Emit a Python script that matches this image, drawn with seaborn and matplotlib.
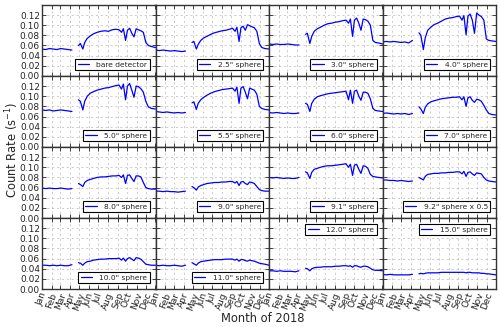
import pandas as pd
import matplotlib
matplotlib.use("Agg")
import matplotlib.pyplot as plt
import matplotlib.dates as mdates
import seaborn as sns

# day-of-year sample points (gap between the two segments)
pre_days = [1, 13, 25, 37, 49, 61, 73, 85, 97]
post_days = [118, 124, 132, 138, 146, 156, 166, 178, 190, 202, 214, 226, 238, 248,
             256, 262, 269, 275, 282, 289, 296, 303, 310, 318, 326, 334, 342, 352, 365]

labels = ['bare detector', '2.5" sphere', '3.0" sphere', '4.0" sphere',
          '5.0" sphere', '5.5" sphere', '6.0" sphere', '7.0" sphere',
          '8.0" sphere', '9.0" sphere', '9.1" sphere', '9.2" sphere x 0.5',
          '10.0" sphere', '11.0" sphere', '12.0" sphere', '15.0" sphere']

bare_pre = [0.053, 0.052, 0.054, 0.053, 0.052, 0.054, 0.053, 0.052, 0.051]
bare_post = [0.060, 0.064, 0.053, 0.066, 0.074, 0.079, 0.083, 0.086, 0.088, 0.089, 0.088, 0.091, 0.092, 0.091,
             0.086, 0.093, 0.070, 0.090, 0.094, 0.084, 0.077, 0.093, 0.091, 0.089, 0.086, 0.066, 0.060, 0.058, 0.056]
s25_pre = [0.051, 0.050, 0.051, 0.050, 0.049, 0.050, 0.049, 0.048, 0.049]
s25_post = [0.066, 0.068, 0.053, 0.062, 0.070, 0.075, 0.078, 0.082, 0.085, 0.087, 0.089, 0.090, 0.092, 0.094,
            0.088, 0.096, 0.068, 0.095, 0.098, 0.090, 0.101, 0.099, 0.097, 0.095, 0.088, 0.064, 0.056, 0.054, 0.053]
s30_pre = [0.063, 0.062, 0.063, 0.062, 0.062, 0.063, 0.062, 0.061, 0.061]
s30_post = [0.082, 0.084, 0.064, 0.078, 0.088, 0.093, 0.096, 0.100, 0.103, 0.104, 0.106, 0.107, 0.109, 0.110,
            0.104, 0.112, 0.078, 0.110, 0.114, 0.104, 0.090, 0.112, 0.111, 0.108, 0.100, 0.070, 0.066, 0.065, 0.063]
s40_pre = [0.067, 0.068, 0.067, 0.068, 0.067, 0.066, 0.067, 0.065, 0.070]
s40_post = [0.085, 0.080, 0.052, 0.075, 0.090, 0.096, 0.101, 0.104, 0.108, 0.112, 0.114, 0.115, 0.117, 0.118,
            0.110, 0.119, 0.081, 0.118, 0.122, 0.110, 0.084, 0.124, 0.120, 0.117, 0.110, 0.073, 0.070, 0.069, 0.068]
s50_pre = [0.073, 0.072, 0.073, 0.071, 0.072, 0.073, 0.072, 0.071, 0.070]
s50_post = [0.093, 0.090, 0.073, 0.090, 0.100, 0.106, 0.109, 0.112, 0.114, 0.116, 0.117, 0.119, 0.121, 0.122,
            0.114, 0.124, 0.093, 0.120, 0.125, 0.112, 0.098, 0.120, 0.119, 0.115, 0.108, 0.090, 0.079, 0.076, 0.075]
s55_pre = [0.070, 0.069, 0.068, 0.069, 0.068, 0.067, 0.068, 0.067, 0.068]
s55_post = [0.087, 0.089, 0.074, 0.086, 0.093, 0.098, 0.102, 0.106, 0.109, 0.111, 0.113, 0.114, 0.115, 0.116,
            0.110, 0.118, 0.086, 0.116, 0.119, 0.108, 0.095, 0.116, 0.114, 0.112, 0.104, 0.080, 0.076, 0.074, 0.073]
s60_pre = [0.068, 0.067, 0.068, 0.067, 0.066, 0.067, 0.066, 0.066, 0.067]
s60_post = [0.086, 0.084, 0.070, 0.086, 0.094, 0.099, 0.101, 0.103, 0.105, 0.106, 0.107, 0.108, 0.109, 0.110,
            0.093, 0.112, 0.086, 0.110, 0.112, 0.100, 0.092, 0.108, 0.108, 0.106, 0.095, 0.076, 0.072, 0.071, 0.070]
s70_pre = [0.066, 0.067, 0.066, 0.065, 0.066, 0.065, 0.066, 0.064, 0.066]
s70_post = [0.079, 0.075, 0.066, 0.078, 0.085, 0.089, 0.091, 0.093, 0.095, 0.096, 0.097, 0.098, 0.098, 0.099,
            0.093, 0.099, 0.080, 0.097, 0.099, 0.092, 0.088, 0.094, 0.093, 0.090, 0.082, 0.073, 0.066, 0.064, 0.063]
s80_pre = [0.059, 0.058, 0.059, 0.058, 0.058, 0.059, 0.058, 0.057, 0.058]
s80_post = [0.068, 0.066, 0.062, 0.070, 0.074, 0.076, 0.078, 0.080, 0.081, 0.081, 0.082, 0.083, 0.083, 0.084,
            0.080, 0.085, 0.068, 0.084, 0.085, 0.078, 0.072, 0.083, 0.083, 0.081, 0.070, 0.060, 0.058, 0.057, 0.057]
s90_pre = [0.053, 0.053, 0.052, 0.053, 0.052, 0.052, 0.051, 0.052, 0.053]
s90_post = [0.062, 0.060, 0.055, 0.061, 0.064, 0.066, 0.068, 0.069, 0.070, 0.070, 0.071, 0.071, 0.072, 0.072,
            0.069, 0.072, 0.064, 0.071, 0.072, 0.068, 0.066, 0.071, 0.070, 0.068, 0.062, 0.056, 0.054, 0.053, 0.053]
s91_pre = [0.080, 0.079, 0.080, 0.079, 0.078, 0.079, 0.078, 0.078, 0.080]
s91_post = [0.091, 0.089, 0.078, 0.090, 0.096, 0.098, 0.100, 0.102, 0.103, 0.103, 0.104, 0.105, 0.106, 0.107,
            0.100, 0.106, 0.084, 0.104, 0.106, 0.096, 0.088, 0.103, 0.102, 0.098, 0.086, 0.082, 0.081, 0.080, 0.079]
s92_pre = [0.075, 0.075, 0.074, 0.074, 0.073, 0.074, 0.073, 0.072, 0.073]
s92_post = [0.080, 0.078, 0.075, 0.082, 0.086, 0.087, 0.088, 0.088, 0.089, 0.089, 0.090, 0.090, 0.091, 0.091,
            0.087, 0.092, 0.082, 0.090, 0.091, 0.087, 0.084, 0.089, 0.088, 0.087, 0.080, 0.075, 0.073, 0.072, 0.071]
s100_pre = [0.047, 0.047, 0.046, 0.047, 0.046, 0.047, 0.046, 0.046, 0.048]
s100_post = [0.052, 0.051, 0.047, 0.051, 0.054, 0.055, 0.057, 0.058, 0.059, 0.059, 0.060, 0.060, 0.060, 0.061,
             0.057, 0.061, 0.055, 0.060, 0.062, 0.059, 0.056, 0.062, 0.061, 0.059, 0.054, 0.049, 0.048, 0.047, 0.047]
s110_pre = [0.047, 0.046, 0.047, 0.046, 0.046, 0.047, 0.046, 0.045, 0.047]
s110_post = [0.052, 0.050, 0.047, 0.051, 0.054, 0.055, 0.056, 0.057, 0.058, 0.058, 0.058, 0.059, 0.059, 0.059,
             0.057, 0.059, 0.055, 0.058, 0.058, 0.056, 0.055, 0.057, 0.056, 0.055, 0.053, 0.051, 0.050, 0.049, 0.047]
s120_pre = [0.036, 0.036, 0.035, 0.036, 0.035, 0.035, 0.035, 0.034, 0.036]
s120_post = [0.041, 0.040, 0.036, 0.040, 0.042, 0.043, 0.043, 0.044, 0.044, 0.044, 0.045, 0.045, 0.046, 0.046,
             0.045, 0.046, 0.043, 0.046, 0.046, 0.044, 0.043, 0.045, 0.045, 0.044, 0.041, 0.038, 0.037, 0.037, 0.036]
s150_pre = [0.029, 0.028, 0.029, 0.028, 0.028, 0.028, 0.028, 0.028, 0.029]
s150_post = [0.030, 0.031, 0.030, 0.031, 0.032, 0.032, 0.032, 0.032, 0.033, 0.033, 0.033, 0.033, 0.033, 0.033,
             0.033, 0.033, 0.032, 0.033, 0.033, 0.032, 0.032, 0.032, 0.032, 0.031, 0.031, 0.030, 0.030, 0.029, 0.028]

series = [(bare_pre, bare_post), (s25_pre, s25_post), (s30_pre, s30_post), (s40_pre, s40_post),
          (s50_pre, s50_post), (s55_pre, s55_post), (s60_pre, s60_post), (s70_pre, s70_post),
          (s80_pre, s80_post), (s90_pre, s90_post), (s91_pre, s91_post), (s92_pre, s92_post),
          (s100_pre, s100_post), (s110_pre, s110_post), (s120_pre, s120_post), (s150_pre, s150_post)]
legend_locs = ['lower right'] * 14 + ['upper right'] * 2

start = pd.Timestamp('2018-01-01')


def to_frame(pre, post):
    """Long frame with a segment column so the gap is not bridged."""
    days = pre_days + post_days
    return pd.DataFrame({
        'date': [start + pd.Timedelta(days=d - 1) for d in days],
        'rate': pre + post,
        'segment': [0] * len(pre_days) + [1] * len(post_days),
    })


sns.set_style('white', {
    'axes.edgecolor': '#333333',
    'xtick.direction': 'in',
    'ytick.direction': 'in',
    'xtick.top': True,
    'ytick.right': True,
    'xtick.bottom': True,
    'ytick.left': True,
})
plt.rcParams['font.family'] = ['DejaVu Sans']

fig, axes = plt.subplots(4, 4, figsize=(5.0, 3.27), dpi=100, sharex=True, sharey=True)
fig.subplots_adjust(left=0.084, right=0.992, top=0.985, bottom=0.116, wspace=0, hspace=0)

for ax, label, (pre, post), loc in zip(axes.flat, labels, series, legend_locs):
    sns.lineplot(data=to_frame(pre, post), x='date', y='rate', units='segment',
                 estimator=None, color='blue', lw=0.9, ax=ax)
    ax.grid(True, color='#b8b8b8', linestyle=(0, (3, 4)), lw=0.5)
    ax.set_xlabel('')
    ax.set_ylabel('')
    for sp in ax.spines.values():
        sp.set_linewidth(1.0)
    ax.tick_params(length=3, width=0.6, labelsize=6.5, pad=1.5)
    leg = ax.legend([ax.lines[0]], [label], loc=loc, fontsize=5.4, fancybox=False,
                    framealpha=1, edgecolor='black', handlelength=1.5,
                    borderpad=0.3, borderaxespad=0.8, handletextpad=1.0)
    leg.get_frame().set_linewidth(0.8)

ax0 = axes[0, 0]
ax0.set_ylim(0, 0.14)
ax0.set_yticks([0.00, 0.02, 0.04, 0.06, 0.08, 0.10, 0.12])
ax0.yaxis.set_major_formatter(plt.FormatStrFormatter('%.2f'))
ax0.set_xlim(start, pd.Timestamp('2018-12-31'))
ax0.xaxis.set_major_locator(mdates.MonthLocator())
ax0.xaxis.set_major_formatter(mdates.DateFormatter('%b'))

for ax in axes[-1]:
    for t in ax.get_xticklabels():
        t.set_rotation(70)
        t.set_ha('center')

fig.text(0.024, 0.541, 'Count Rate (s$^{-1}$)', rotation=90, va='center', ha='center', fontsize=8.3)
fig.text(0.526, 0.027, 'Month of 2018', va='center', ha='center', fontsize=8.3)

fig.savefig('out.png', dpi=100)
